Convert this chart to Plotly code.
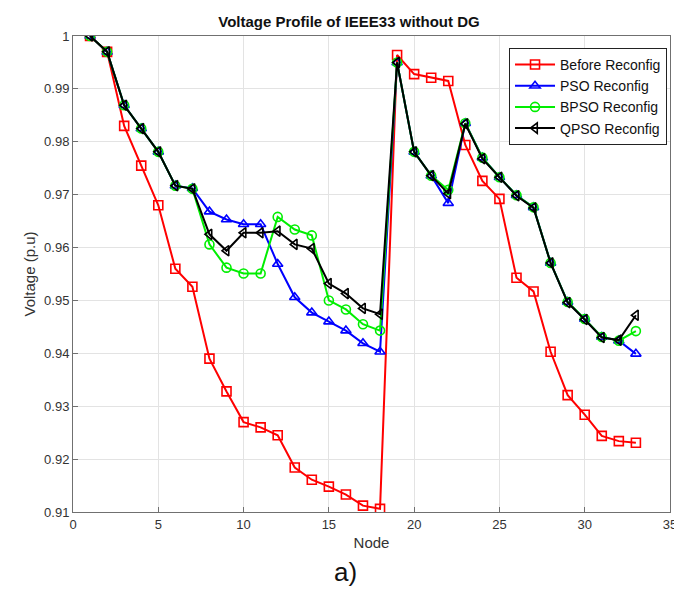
import plotly.graph_objects as go

nodes = list(range(1, 34))

before = [1.0, 0.997, 0.983, 0.9755, 0.968, 0.956, 0.9526, 0.939, 0.9328, 0.927, 0.926, 0.9245,
          0.9184, 0.9161, 0.9148, 0.9133, 0.9112, 0.9106, 0.9964, 0.9928, 0.9921, 0.9915, 0.9794,
          0.9726, 0.9692, 0.9543, 0.9517, 0.9403, 0.9321, 0.9284, 0.9244, 0.9234, 0.9231]
pso = [1.0, 0.997, 0.9869, 0.9825, 0.9781, 0.9717, 0.9712, 0.9668, 0.9653, 0.9644, 0.9644, 0.9569,
       0.9506, 0.9477, 0.9460, 0.9443, 0.9419, 0.9403, 0.9950, 0.9781, 0.9736, 0.9684, 0.9835,
       0.9770, 0.9733, 0.9699, 0.9676, 0.9571, 0.9497, 0.9465, 0.9431, 0.9424, 0.9399]
bpso = [1.0, 0.997, 0.9869, 0.9825, 0.9781, 0.9717, 0.9711, 0.9606, 0.9562, 0.9551, 0.9551, 0.9658,
        0.9634, 0.9623, 0.9500, 0.9483, 0.9455, 0.9443, 0.9950, 0.9781, 0.9736, 0.9709, 0.9835,
        0.9770, 0.9733, 0.9699, 0.9676, 0.9571, 0.9497, 0.9465, 0.9431, 0.9424, 0.9442]
qpso = [1.0, 0.997, 0.9869, 0.9825, 0.9781, 0.9717, 0.9711, 0.9625, 0.9594, 0.9628, 0.9628, 0.9631,
        0.9606, 0.9598, 0.9532, 0.9513, 0.9485, 0.9474, 0.9950, 0.9781, 0.9736, 0.9702, 0.9834,
        0.9768, 0.9733, 0.9698, 0.9675, 0.9571, 0.9496, 0.9464, 0.9430, 0.9425, 0.9472]

series_names = ["Before Reconfig", "PSO Reconfig", "BPSO Reconfig", "QPSO Reconfig"]
series_colors = ["#ff0000", "#0000ff", "#00ee00", "#000000"]
series_symbols = ["square-open", "triangle-up-open", "circle-open", "triangle-left-open"]
series_values = [before, pso, bpso, qpso]

x_ticks = [0, 5, 10, 15, 20, 25, 30, 35]
y_ticks = [0.91, 0.92, 0.93, 0.94, 0.95, 0.96, 0.97, 0.98, 0.99, 1.0]
y_ticktext = ["0.91", "0.92", "0.93", "0.94", "0.95", "0.96", "0.97", "0.98", "0.99", "1"]

FONT = "Liberation Sans Narrow, Arial Narrow, Liberation Sans, Arial, sans-serif"
FONT2 = "Liberation Sans, Arial, sans-serif"

fig = go.Figure()
for name, col, sym, vals in zip(series_names, series_colors, series_symbols, series_values):
    fig.add_trace(go.Scatter(
        x=nodes, y=vals, name=name, mode="lines+markers",
        line=dict(color=col, width=2),
        marker=dict(symbol=sym, size=9, color=col, line=dict(color=col, width=1.6)),
    ))

axis_common = dict(
    showline=True, linecolor="#707070", linewidth=1, mirror=True,
    showgrid=True, gridcolor="#e3e3e3", gridwidth=1,
    ticks="inside", ticklen=5, tickcolor="#707070",
    zeroline=False, automargin=False,
    tickfont=dict(family=FONT2, size=13, color="#333333"),
)

fig.update_layout(
    width=682, height=592,
    margin=dict(l=65, r=20, t=28, b=88),
    paper_bgcolor="white", plot_bgcolor="white",
    title=dict(text="<b>Voltage Profile of IEEE33 without DG</b>", x=0.5, xanchor="center",
               y=0.968, yanchor="bottom", font=dict(family=FONT, size=15, color="#111111")),
    xaxis=dict(range=[0, 35], tickvals=x_ticks,
               title=dict(text="Node", font=dict(family=FONT2, size=15, color="#333333"), standoff=6),
               **axis_common),
    yaxis=dict(range=[0.91, 1.0], tickvals=y_ticks, ticktext=y_ticktext,
               title=dict(text="Voltage (p.u)", font=dict(family=FONT2, size=15, color="#333333"), standoff=4),
               **axis_common),
    legend=dict(x=0.995, y=0.975, xanchor="right", yanchor="top",
                bgcolor="white", bordercolor="#222222", borderwidth=1,
                font=dict(family=FONT2, size=14, color="#111111"),
                tracegroupgap=0, itemwidth=40),
    showlegend=True,
)

fig.add_annotation(text="a)", xref="paper", yref="paper", x=0.457, y=-0.09,
                   xanchor="center", yanchor="top", showarrow=False,
                   font=dict(family=FONT, size=26, color="#111111"))

fig.write_html("out.html")
